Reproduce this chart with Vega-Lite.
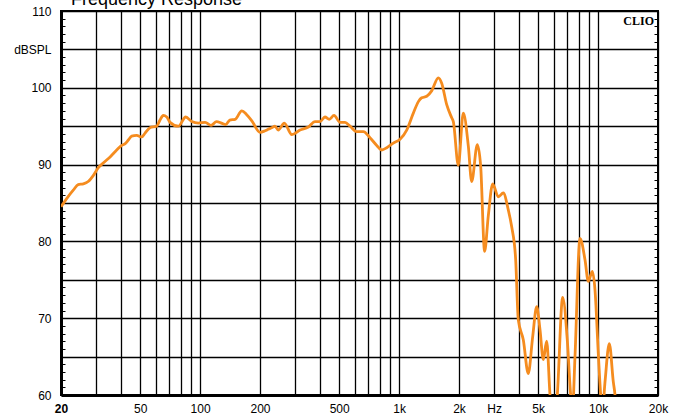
{
  "$schema": "https://vega.github.io/schema/vega-lite/v6.json",
  "autosize": {"type": "none"},
  "width": 597,
  "height": 384,
  "padding": {"left": 61, "top": 11, "right": 17, "bottom": 23},
  "background": "#ffffff",
  "config": {
    "view": {"stroke": "#000000", "strokeWidth": 2},
    "font": "Liberation Sans"
  },
  "data": {
    "values": [
      {"f": 20, "db": 84.5}, {"f": 21.4, "db": 85.6}, {"f": 23.1, "db": 86.7}, {"f": 24.4, "db": 87.4},
      {"f": 25.9, "db": 87.5}, {"f": 27.4, "db": 87.8}, {"f": 29.1, "db": 88.6}, {"f": 30.8, "db": 89.6},
      {"f": 32.6, "db": 90.2}, {"f": 35.3, "db": 91.0}, {"f": 38.1, "db": 91.9}, {"f": 40.4, "db": 92.5},
      {"f": 41.9, "db": 92.7}, {"f": 43.6, "db": 93.2}, {"f": 45.3, "db": 93.7}, {"f": 48, "db": 93.8},
      {"f": 50.9, "db": 93.6}, {"f": 52.9, "db": 94.1}, {"f": 56, "db": 94.8}, {"f": 60.5, "db": 95.0},
      {"f": 62.9, "db": 95.8}, {"f": 65.3, "db": 96.4}, {"f": 68, "db": 96.2}, {"f": 70.6, "db": 95.5},
      {"f": 77.7, "db": 95.0}, {"f": 84.7, "db": 96.2}, {"f": 90.8, "db": 95.6}, {"f": 98, "db": 95.4},
      {"f": 106, "db": 95.5}, {"f": 113.5, "db": 95.1}, {"f": 121, "db": 95.6}, {"f": 128, "db": 95.4},
      {"f": 134.5, "db": 95.2}, {"f": 141, "db": 95.8}, {"f": 150, "db": 95.9}, {"f": 162, "db": 97.0},
      {"f": 171.5, "db": 96.5}, {"f": 182, "db": 95.7}, {"f": 200, "db": 94.2}, {"f": 212, "db": 94.4},
      {"f": 220, "db": 94.6}, {"f": 229, "db": 94.8}, {"f": 238, "db": 95.0}, {"f": 247, "db": 94.5},
      {"f": 265, "db": 95.4}, {"f": 289, "db": 93.9}, {"f": 318, "db": 94.5}, {"f": 350, "db": 94.9},
      {"f": 378, "db": 95.6}, {"f": 401, "db": 95.6}, {"f": 424, "db": 96.2}, {"f": 446, "db": 95.9},
      {"f": 471, "db": 96.4}, {"f": 505, "db": 95.5}, {"f": 535, "db": 95.5}, {"f": 567, "db": 95.0},
      {"f": 612, "db": 94.3}, {"f": 661, "db": 94.3}, {"f": 714, "db": 93.5}, {"f": 772, "db": 92.5},
      {"f": 818, "db": 91.9}, {"f": 867, "db": 92.2}, {"f": 935, "db": 92.8}, {"f": 1011, "db": 93.3},
      {"f": 1092, "db": 94.5}, {"f": 1179, "db": 96.7}, {"f": 1250, "db": 98.2}, {"f": 1299, "db": 98.7},
      {"f": 1377, "db": 98.9}, {"f": 1458, "db": 99.6}, {"f": 1574, "db": 101.3}, {"f": 1637, "db": 100.6},
      {"f": 1735, "db": 97.8}, {"f": 1838, "db": 96.1}, {"f": 1873, "db": 95.6}, {"f": 1984, "db": 89.9},
      {"f": 2102, "db": 96.7}, {"f": 2228, "db": 92.4}, {"f": 2316, "db": 87.8}, {"f": 2472, "db": 92.6},
      {"f": 2570, "db": 89.8}, {"f": 2690, "db": 78.7}, {"f": 2806, "db": 83.3}, {"f": 2954, "db": 87.5},
      {"f": 3152, "db": 85.8}, {"f": 3340, "db": 86.3}, {"f": 3538, "db": 84.1}, {"f": 3680, "db": 81.9},
      {"f": 3850, "db": 77.8}, {"f": 3972, "db": 69.8}, {"f": 4208, "db": 67.2}, {"f": 4458, "db": 62.8},
      {"f": 4692, "db": 67.6}, {"f": 4914, "db": 71.5}, {"f": 5106, "db": 68.5}, {"f": 5304, "db": 64.6},
      {"f": 5516, "db": 67.0}, {"f": 5732, "db": 60}, {"f": 5970, "db": 55}, {"f": 6238, "db": 60},
      {"f": 6638, "db": 72.7}, {"f": 7000, "db": 67.2}, {"f": 7282, "db": 60}, {"f": 7436, "db": 58},
      {"f": 7654, "db": 65}, {"f": 8110, "db": 80.4}, {"f": 8594, "db": 77.6}, {"f": 8928, "db": 74.8},
      {"f": 9352, "db": 76.1}, {"f": 9648, "db": 73.7}, {"f": 10024, "db": 65.4}, {"f": 10306, "db": 60},
      {"f": 10522, "db": 58}, {"f": 10832, "db": 61.7}, {"f": 11384, "db": 66.7}, {"f": 11926, "db": 61.7},
      {"f": 12162, "db": 60}, {"f": 12446, "db": 56}
    ]
  },
  "resolve": {"axis": {"y": "independent"}},
  "layer": [
    {
      "mark": {"type": "line", "color": "#F58C1F", "strokeWidth": 2.8, "interpolate": "monotone", "clip": true},
      "encoding": {
        "x": {
          "field": "f", "type": "quantitative",
          "scale": {"type": "log", "domain": [20, 20000], "nice": false, "zero": false},
          "axis": {
            "orient": "bottom", "title": null,
            "values": [20,30,40,50,60,70,80,90,100,200,300,400,500,600,700,800,900,1000,2000,3000,4000,5000,6000,7000,8000,9000,10000,20000],
            "grid": true, "gridColor": "#000000", "gridWidth": 1.3, "gridOpacity": 1,
            "ticks": false,
            "domainColor": "#000000", "domainWidth": 3,
            "labelExpr": "datum.value === 3000 ? 'Hz' : (indexof([20,50,100,200,500,1000,2000,5000,10000,20000], datum.value) >= 0 ? (datum.value >= 1000 ? (datum.value / 1000) + 'k' : '' + datum.value) : '')",
            "labelFlush": false, "labelOverlap": false, "labelBound": false,
            "labelFont": "Liberation Sans", "labelFontSize": 12, "labelColor": "#000000",
            "labelFontWeight": {"condition": {"test": "datum.value === 20", "value": "bold"}, "value": "normal"},
            "labelPadding": 8
          }
        },
        "y": {
          "field": "db", "type": "quantitative",
          "scale": {"domain": [60, 110], "nice": false, "zero": false},
          "axis": {
            "orient": "left", "title": null,
            "values": [60,61,62,63,64,65,66,67,68,69,70,71,72,73,74,75,76,77,78,79,80,81,82,83,84,85,86,87,88,89,90,91,92,93,94,95,96,97,98,99,100,101,102,103,104,105,106,107,108,109,110],
            "grid": true, "gridColor": "#000000", "gridWidth": 1.3,
            "gridOpacity": {"condition": {"test": "datum.value % 5 === 0", "value": 1}, "value": 0},
            "ticks": true, "tickSize": -4, "tickColor": "#000000", "tickWidth": 1,
            "domainColor": "#000000", "domainWidth": 3,
            "labelExpr": "datum.value === 105 ? 'dBSPL' : (datum.value % 10 === 0 ? '' + datum.value : '')",
            "labelOverlap": false, "labelBound": false,
            "labelFont": "Liberation Sans", "labelFontSize": 12, "labelColor": "#000000",
            "labelPadding": 14
          }
        }
      }
    },
    {
      "data": {"values": [{"label": "CLIO"}]},
      "mark": {"type": "text", "font": "Liberation Serif", "fontWeight": "bold", "fontSize": 12, "align": "right", "baseline": "top", "dx": -4, "dy": 5, "color": "#000000"},
      "encoding": {
        "text": {"field": "label"},
        "x": {"datum": 20000, "type": "quantitative"},
        "y": {
          "datum": 110, "type": "quantitative",
          "axis": {
            "orient": "right", "title": null,
            "values": [60,61,62,63,64,65,66,67,68,69,70,71,72,73,74,75,76,77,78,79,80,81,82,83,84,85,86,87,88,89,90,91,92,93,94,95,96,97,98,99,100,101,102,103,104,105,106,107,108,109,110],
            "grid": false, "labels": false, "domain": false,
            "ticks": true, "tickSize": -4, "tickColor": "#000000", "tickWidth": 1
          }
        }
      }
    },
    {
      "data": {"values": [{"label": "Frequency Response"}]},
      "mark": {"type": "text", "font": "Liberation Sans", "fontSize": 18, "align": "left", "baseline": "alphabetic", "dx": 10, "dy": -6, "color": "#000000"},
      "encoding": {
        "text": {"field": "label"},
        "x": {"datum": 20, "type": "quantitative"},
        "y": {"datum": 110, "type": "quantitative", "axis": null}
      }
    }
  ]
}
